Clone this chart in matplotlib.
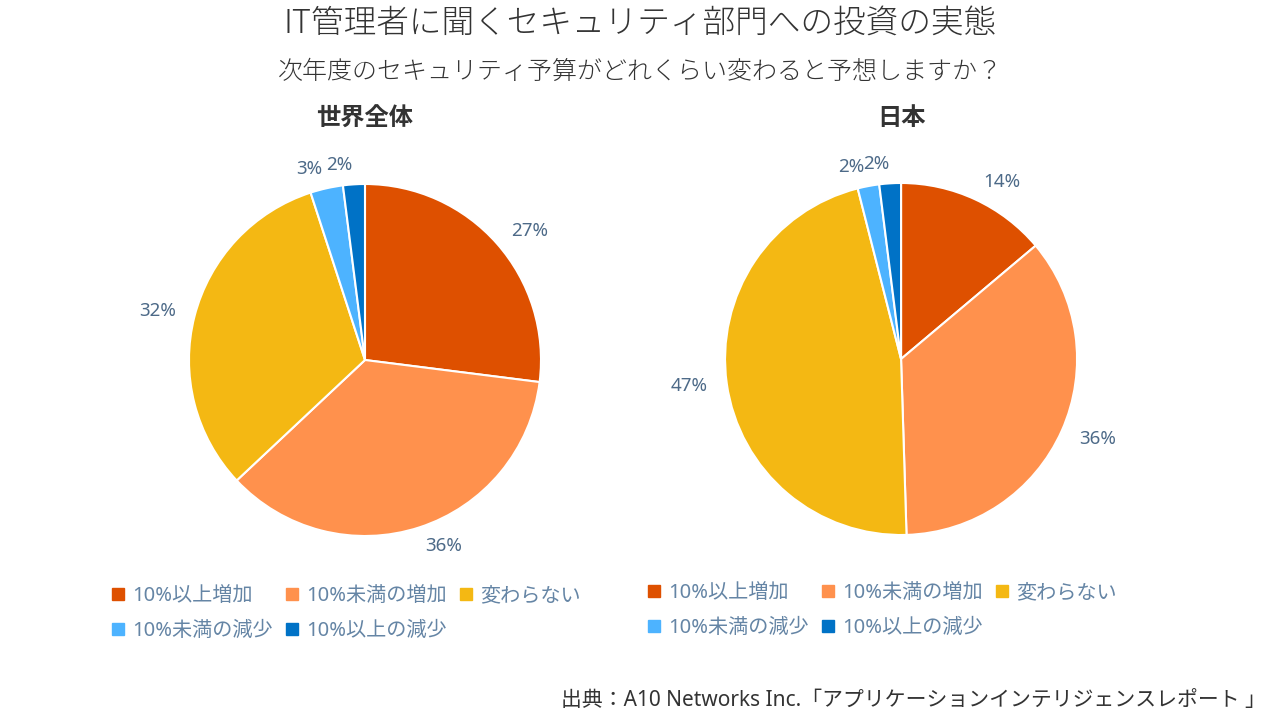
import matplotlib
matplotlib.use("Agg")
import matplotlib.pyplot as plt
from matplotlib.lines import Line2D

plt.rcParams['font.family'] = ['Noto Sans', 'Noto Sans CJK JP', 'DejaVu Sans']

categories = ["10%以上増加", "10%未満の増加", "変わらない", "10%未満の減少", "10%以上の減少"]
world_values = [27, 36, 32, 3, 2]
japan_values = [14, 36, 47, 2, 2]
colors = ["#DE5000", "#FF914D", "#F4B813", "#4DB3FF", "#0072C6"]

title = "IT管理者に聞くセキュリティ部門への投資の実態"
subtitle = "次年度のセキュリティ予算がどれくらい変わると予想しますか？"
source = "出典：A10 Networks Inc.「アプリケーションインテリジェンスレポート 」"

label_color = "#4d6a88"
legend_color = "#6585a5"

fig = plt.figure(figsize=(12.8, 7.2), dpi=100)
fig.text(0.5, 0.968, title, ha='center', va='center', fontsize=23.5, color='#333333',
         family=['Noto Sans CJK JP'], fontweight='light')
fig.text(0.5, 0.901, subtitle, ha='center', va='center', fontsize=18, color='#333333',
         family=['Noto Sans CJK JP'], fontweight='light')

# matplotlib fills legend columns first; reorder so rows read left to right
order = [0, 3, 1, 4, 2]

def draw_pie(rect, values, name, legend_y):
    ax = fig.add_axes(rect)
    ax.pie(values, colors=colors, startangle=90, counterclock=False,
           labels=[f"{v}%" for v in values], labeldistance=1.11,
           wedgeprops=dict(edgecolor='white', linewidth=1.5),
           textprops=dict(fontsize=13.5, color=label_color))
    ax.set_xlim(-1.3, 1.3)
    ax.set_ylim(-1.3, 1.3)
    ax.set_aspect('equal')
    ax.set_title(name, fontsize=17.5, fontweight='bold', color='#333333', pad=2,
                 family=['Noto Sans CJK JP'])
    handles = [Line2D([], [], marker='s', linestyle='none', markersize=8, color=colors[i]) for i in order]
    labels = [categories[i] for i in order]
    ax.legend(handles, labels, ncol=3, loc='upper left', bbox_to_anchor=(-0.092, legend_y),
              frameon=False, fontsize=14.5, labelcolor=legend_color,
              handlelength=0.6, handletextpad=0.4, columnspacing=0.65, labelspacing=0.75)
    return ax

draw_pie([0.1064, 0.1822, 0.3575, 0.6356], world_values, "世界全体", 0.045)
draw_pie([0.5252, 0.1836, 0.3575, 0.6356], japan_values, "日本", 0.05)

fig.text(0.989, 0.027, source, ha='right', va='center', fontsize=15, color='#333333')

fig.savefig("out.png", dpi=100)
